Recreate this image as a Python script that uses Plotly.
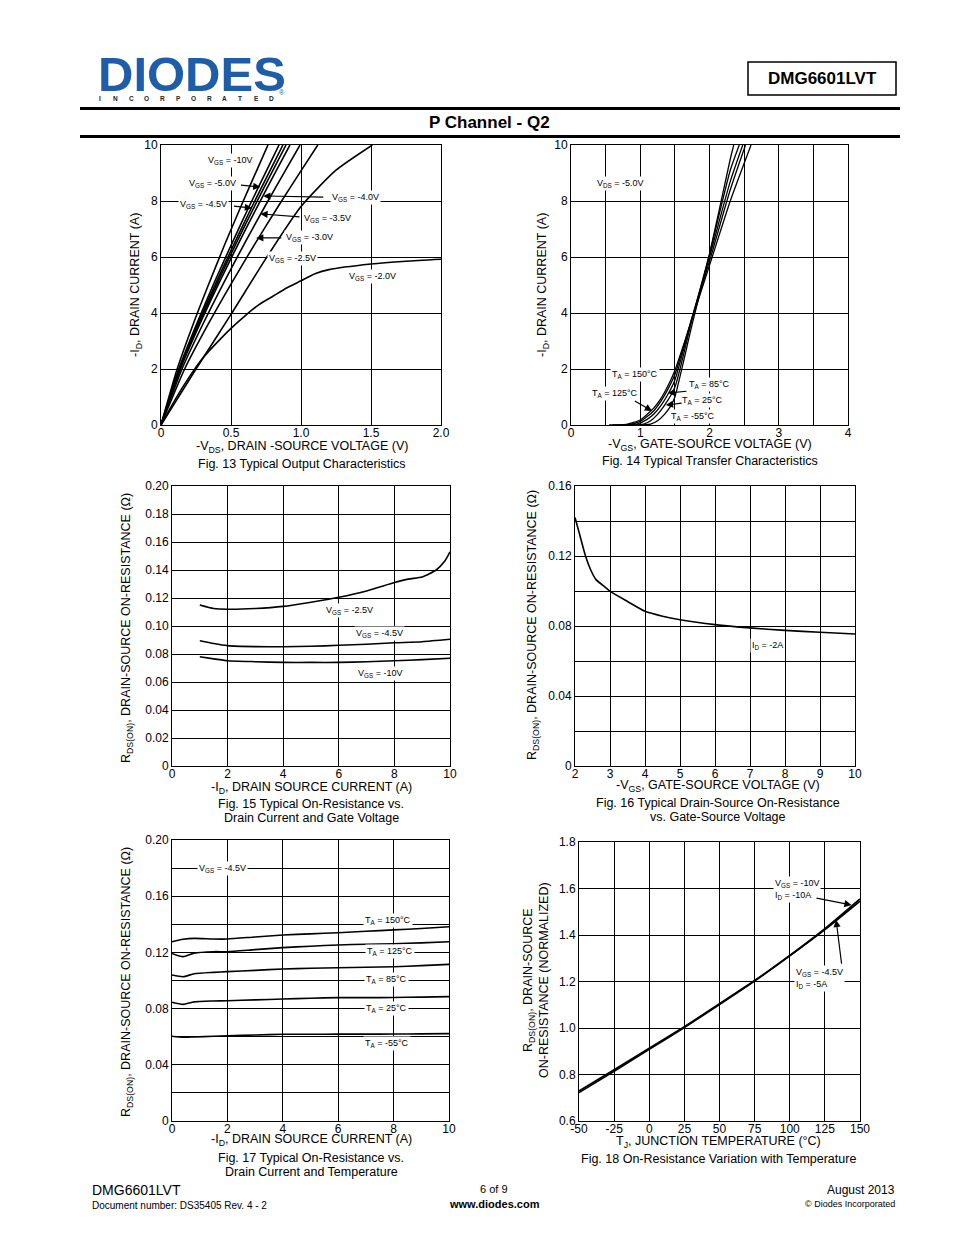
import plotly.graph_objects as go

OFF = 0
FW, FH = 954, 1235
FONT = "Liberation Sans, Arial, sans-serif"

# ---------------- DATA ----------------
# Fig 13: output characteristics (-VDS, -ID)
f13_vgs10_x = [0, 0.115, 0.229, 0.344, 0.458, 0.573, 0.688, 0.764]
f13_vgs10_y = [0, 1.99, 3.59, 5.07, 6.48, 7.83, 9.14, 10]
f13_vgs5_x = [0, 0.126, 0.253, 0.379, 0.506, 0.632, 0.759, 0.843]
f13_vgs5_y = [0, 1.99, 3.59, 5.07, 6.48, 7.83, 9.14, 10]
f13_vgs45_x = [0, 0.131, 0.261, 0.392, 0.523, 0.653, 0.784, 0.871]
f13_vgs45_y = [0, 1.99, 3.59, 5.07, 6.48, 7.83, 9.14, 10]
f13_unl_x = [0, 0.134, 0.268, 0.402, 0.536, 0.670, 0.804, 0.893]
f13_unl_y = [0, 1.99, 3.59, 5.07, 6.48, 7.83, 9.14, 10]
f13_vgs4_x = [0, 0.138, 0.276, 0.414, 0.553, 0.691, 0.829, 0.921]
f13_vgs4_y = [0, 1.99, 3.59, 5.07, 6.48, 7.83, 9.14, 10]
f13_vgs35_x = [0, 0.149, 0.298, 0.447, 0.596, 0.745, 0.894, 0.993]
f13_vgs35_y = [0, 1.99, 3.59, 5.07, 6.48, 7.83, 9.14, 10]
f13_vgs3_x = [0, 0.168, 0.336, 0.504, 0.672, 0.840, 1.008, 1.12]
f13_vgs3_y = [0, 1.99, 3.59, 5.07, 6.48, 7.83, 9.14, 10]
f13_vgs25_x = [0, 0.25, 0.5, 0.75, 1.0, 1.25, 1.51]
f13_vgs25_y = [0, 2.0, 3.95, 5.95, 7.8, 9.1, 10]
f13_vgs2_x = [0, 0.1, 0.2, 0.3, 0.42, 0.5, 0.6, 0.7, 0.8, 0.9, 1.0, 1.1, 1.2, 1.5, 1.75, 2.0]
f13_vgs2_y = [0, 0.9, 1.7, 2.4, 3.05, 3.45, 3.9, 4.3, 4.6, 4.9, 5.15, 5.4, 5.55, 5.75, 5.85, 5.92]

# Fig 14: transfer characteristics (-VGS, -ID)
f14_t150_x = [0.55, 0.8, 1.0, 1.1, 1.2, 1.3, 1.4, 1.5, 1.75, 2.0, 2.3, 2.6]
f14_t150_y = [0, 0.02, 0.18, 0.38, 0.62, 0.95, 1.4, 1.95, 3.8, 5.7, 8.0, 10]
f14_t125_x = [0.6, 0.85, 1.0, 1.1, 1.2, 1.3, 1.4, 1.5, 1.75, 2.0, 2.3, 2.52]
f14_t125_y = [0, 0.02, 0.13, 0.3, 0.52, 0.85, 1.28, 1.8, 3.85, 5.85, 8.4, 10]
f14_t85_x = [0.7, 0.95, 1.1, 1.2, 1.3, 1.4, 1.5, 1.75, 2.0, 2.3, 2.48]
f14_t85_y = [0, 0.03, 0.2, 0.4, 0.7, 1.1, 1.6, 3.85, 6.0, 8.7, 10]
f14_t25_x = [0.8, 1.05, 1.15, 1.25, 1.35, 1.5, 1.75, 2.0, 2.3, 2.43]
f14_t25_y = [0, 0.03, 0.15, 0.38, 0.7, 1.35, 3.8, 6.1, 9.1, 10]
f14_tm55_x = [0.95, 1.15, 1.25, 1.35, 1.45, 1.5, 1.75, 2.0, 2.3, 2.35]
f14_tm55_y = [0, 0.03, 0.15, 0.38, 0.72, 1.0, 3.6, 6.1, 9.5, 10]

# Fig 15: RDS(ON) vs ID and VGS
f15_vgs25_x = [1, 1.5, 2, 3, 4, 5, 6, 7, 8, 8.5, 9, 9.5, 9.8, 10]
f15_vgs25_y = [0.115, 0.1125, 0.112, 0.1125, 0.114, 0.117, 0.1205, 0.125, 0.131, 0.1335, 0.135, 0.14, 0.146, 0.153]
f15_vgs45_x = [1, 1.5, 2, 3, 4, 5, 6, 7, 8, 9, 10]
f15_vgs45_y = [0.0895, 0.0875, 0.086, 0.0853, 0.0852, 0.0855, 0.0862, 0.087, 0.088, 0.0888, 0.0905]
f15_vgs10_x = [1, 1.5, 2, 3, 4, 5, 6, 7, 8, 9, 10]
f15_vgs10_y = [0.078, 0.0765, 0.0752, 0.0745, 0.074, 0.074, 0.074, 0.0745, 0.0752, 0.076, 0.077]

# Fig 16: RDS(ON) vs VGS
f16_vgs = [2.0, 2.15, 2.3, 2.45, 2.6, 2.8, 3.0, 3.5, 4.0, 4.5, 5, 6, 7, 8, 9, 10]
f16_rds = [0.142, 0.131, 0.12, 0.112, 0.1065, 0.1032, 0.0999, 0.094, 0.0884, 0.0856, 0.0836, 0.0808, 0.0789, 0.0775, 0.0764, 0.0754]

# Fig 17: RDS(ON) vs ID and temperature
f17_id = [0, 0.4, 0.8, 1.5, 2, 3, 4, 5, 6, 7, 8, 9, 10]
f17_t150 = [0.1276, 0.1293, 0.130, 0.1295, 0.1295, 0.131, 0.1324, 0.1332, 0.134, 0.135, 0.136, 0.137, 0.1383]
f17_t125 = [0.1193, 0.117, 0.1195, 0.1205, 0.1205, 0.122, 0.1234, 0.1244, 0.1253, 0.1258, 0.1262, 0.1268, 0.1276]
f17_t85 = [0.1039, 0.1027, 0.1048, 0.1058, 0.1063, 0.1072, 0.1082, 0.1087, 0.1091, 0.1094, 0.1098, 0.1106, 0.1115]
f17_t25 = [0.0845, 0.083, 0.0848, 0.0854, 0.0856, 0.0862, 0.0868, 0.0874, 0.0878, 0.0878, 0.0879, 0.0882, 0.0885]
f17_tm55 = [0.0603, 0.0596, 0.0598, 0.0603, 0.0607, 0.0612, 0.0617, 0.0617, 0.0618, 0.0618, 0.0619, 0.062, 0.0622]

# Fig 18: normalized RDS(ON) vs TJ
f18_tj = [-50, -25, 0, 25, 50, 75, 100, 125, 150]
f18_vgs10 = [0.729, 0.82, 0.913, 1.006, 1.104, 1.204, 1.312, 1.427, 1.555]
f18_vgs45 = [0.722, 0.814, 0.908, 1.002, 1.101, 1.202, 1.31, 1.423, 1.546]

# ---------------- LAYOUT HELPERS ----------------
def px(x):
    return (x - OFF) / FW

def py(y):
    return 1 - (y - OFF) / FH

fig = go.Figure()

boxes = {
    1: (161, 441, 145, 425),
    2: (571, 848, 145, 425),
    3: (172, 450, 486, 766),
    4: (575, 855, 486, 766),
    5: (172, 449, 840, 1121),
    6: (579, 860, 842, 1121),
}

def axname(i, kind):
    return kind + ("axis" if i == 1 else "axis%d" % i)

def ref(i, kind):
    return kind if i == 1 else "%s%d" % (kind, i)

def add_line(i, x, y, width=1.6, name=""):
    fig.add_trace(go.Scatter(x=x, y=y, mode="lines", name=name,
                             line=dict(color="black", width=width, shape="spline", smoothing=0.6),
                             xaxis=ref(i, "x"), yaxis=ref(i, "y"), showlegend=False,
                             hoverinfo="skip"))

# Fig 13
add_line(1, f13_vgs10_x, f13_vgs10_y, name="VGS=-10V")
add_line(1, f13_vgs5_x, f13_vgs5_y, name="VGS=-5.0V")
add_line(1, f13_vgs45_x, f13_vgs45_y, name="VGS=-4.5V")
add_line(1, f13_unl_x, f13_unl_y, name="unlabeled")
add_line(1, f13_vgs4_x, f13_vgs4_y, name="VGS=-4.0V")
add_line(1, f13_vgs35_x, f13_vgs35_y, name="VGS=-3.5V")
add_line(1, f13_vgs3_x, f13_vgs3_y, name="VGS=-3.0V")
add_line(1, f13_vgs25_x, f13_vgs25_y, name="VGS=-2.5V")
add_line(1, f13_vgs2_x, f13_vgs2_y, name="VGS=-2.0V")
# Fig 14
add_line(2, f14_t150_x, f14_t150_y, width=1.3)
add_line(2, f14_t125_x, f14_t125_y, width=1.3)
add_line(2, f14_t85_x, f14_t85_y, width=1.3)
add_line(2, f14_t25_x, f14_t25_y, width=1.3)
add_line(2, f14_tm55_x, f14_tm55_y, width=1.3)
# Fig 15
add_line(3, f15_vgs25_x, f15_vgs25_y)
add_line(3, f15_vgs45_x, f15_vgs45_y)
add_line(3, f15_vgs10_x, f15_vgs10_y)
# Fig 16
add_line(4, f16_vgs, f16_rds)
# Fig 17
for ys in (f17_t150, f17_t125, f17_t85, f17_t25, f17_tm55):
    add_line(5, f17_id, ys)
# Fig 18
add_line(6, f18_tj, f18_vgs10, width=1.7)
add_line(6, f18_tj, f18_vgs45, width=1.7)

axis_common = dict(showline=True, mirror=True, linecolor="black", linewidth=1,
                   showgrid=True, gridcolor="black", gridwidth=1, zeroline=False,
                   ticks="", tickfont=dict(family=FONT, size=12, color="black"),
                   fixedrange=True, automargin=False)

def setax(i, xr, xtv, xtt, yr, ytv, ytt, xminor=None, yminor=None):
    x0, x1, y0, y1 = boxes[i]
    xa = dict(axis_common, domain=[px(x0), px(x1)], range=xr, tickvals=xtv, ticktext=xtt,
              anchor=ref(i, "y"), ticklabelstandoff=-3)
    ya = dict(axis_common, domain=[py(y1), py(y0)], range=yr, tickvals=ytv, ticktext=ytt,
              anchor=ref(i, "x"))
    if xminor is not None:
        xa["minor"] = dict(tickvals=xminor, showgrid=True, gridcolor="black", gridwidth=1, ticks="")
    if yminor is not None:
        ya["minor"] = dict(tickvals=yminor, showgrid=True, gridcolor="black", gridwidth=1, ticks="")
    fig.update_layout({axname(i, "x"): xa, axname(i, "y"): ya})

setax(1, [0, 2], [0, 0.5, 1, 1.5, 2], ["0", "0.5", "1.0", "1.5", "2.0"],
      [0, 10], [0, 2, 4, 6, 8, 10], ["0", "2", "4", "6", "8", "10"])
setax(2, [0, 4], [0, 1, 2, 3, 4], ["0", "1", "2", "3", "4"],
      [0, 10], [0, 2, 4, 6, 8, 10], ["0", "2", "4", "6", "8", "10"],
      xminor=[0.5, 1.5, 2.5, 3.5])
setax(3, [0, 10], [0, 2, 4, 6, 8, 10], ["0", "2", "4", "6", "8", "10"],
      [0, 0.2], [0, 0.02, 0.04, 0.06, 0.08, 0.10, 0.12, 0.14, 0.16, 0.18, 0.20],
      ["0", "0.02", "0.04", "0.06", "0.08", "0.10", "0.12", "0.14", "0.16", "0.18", "0.20"])
setax(4, [2, 10], [2, 3, 4, 5, 6, 7, 8, 9, 10], ["2", "3", "4", "5", "6", "7", "8", "9", "10"],
      [0, 0.16], [0, 0.04, 0.08, 0.12, 0.16], ["0", "0.04", "0.08", "0.12", "0.16"],
      yminor=[0.02, 0.06, 0.10, 0.14])
setax(5, [0, 10], [0, 2, 4, 6, 8, 10], ["0", "2", "4", "6", "8", "10"],
      [0, 0.2], [0, 0.04, 0.08, 0.12, 0.16, 0.20], ["0", "0.04", "0.08", "0.12", "0.16", "0.20"],
      yminor=[0.02, 0.06, 0.10, 0.14, 0.18])
setax(6, [-50, 150], [-50, -25, 0, 25, 50, 75, 100, 125, 150],
      ["-50", "-25", "0", "25", "50", "75", "100", "125", "150"],
      [0.6, 1.8], [0.6, 0.8, 1.0, 1.2, 1.4, 1.6, 1.8], ["0.6", "0.8", "1.0", "1.2", "1.4", "1.6", "1.8"])

ann = []

def label(i, x, y, text, bg=True, size=9, align="center"):
    ann.append(dict(x=x, y=y, xref=ref(i, "x"), yref=ref(i, "y"), text=text, showarrow=False,
                    font=dict(family=FONT, size=size, color="black"), align=align,
                    bgcolor="white" if bg else "rgba(0,0,0,0)", borderpad=1))

def arrow(i, x0, y0, x1, y1):
    ann.append(dict(x=x1, y=y1, ax=x0, ay=y0, xref=ref(i, "x"), yref=ref(i, "y"),
                    axref=ref(i, "x"), ayref=ref(i, "y"), text="", showarrow=True,
                    arrowhead=2, arrowsize=1.2, arrowwidth=1.2, arrowcolor="black", standoff=0))

# Fig 13 labels
label(1, 0.49, 9.46, "V<sub>GS</sub> = -10V")
label(1, 0.37, 8.64, "V<sub>GS</sub> = -5.0V")
arrow(1, 0.56, 8.57, 0.71, 8.5)
label(1, 0.30, 7.89, "V<sub>GS</sub> = -4.5V")
arrow(1, 0.51, 7.82, 0.65, 7.75)
label(1, 1.39, 8.14, "V<sub>GS</sub> = -4.0V")
arrow(1, 1.17, 8.14, 0.73, 8.18)
label(1, 1.19, 7.39, "V<sub>GS</sub> = -3.5V")
arrow(1, 1.0, 7.43, 0.71, 7.54)
label(1, 1.06, 6.71, "V<sub>GS</sub> = -3.0V")
arrow(1, 0.87, 6.68, 0.68, 6.68)
label(1, 0.94, 5.96, "V<sub>GS</sub> = -2.5V")
label(1, 1.51, 5.29, "V<sub>GS</sub> = -2.0V")

# Fig 14 labels
label(2, 0.71, 8.64, "V<sub>DS</sub> = -5.0V")
label(2, 0.92, 1.79, "T<sub>A</sub> = 150°C")
label(2, 0.64, 1.14, "T<sub>A</sub> = 125°C")
arrow(2, 0.9, 0.89, 1.17, 0.5)
label(2, 2.0, 1.43, "T<sub>A</sub> = 85°C")
arrow(2, 1.69, 1.21, 1.4, 1.14)
label(2, 1.9, 0.86, "T<sub>A</sub> = 25°C")
arrow(2, 1.62, 0.79, 1.37, 0.71)
label(2, 1.76, 0.32, "T<sub>A</sub> = -55°C")

# Fig 15 labels
label(3, 6.4, 0.1114, "V<sub>GS</sub> = -2.5V")
label(3, 7.48, 0.095, "V<sub>GS</sub> = -4.5V")
label(3, 7.48, 0.0664, "V<sub>GS</sub> = -10V")

# Fig 16 label
label(4, 7.49, 0.0691, "I<sub>D</sub> = -2A")

# Fig 17 labels
label(5, 1.84, 0.18, "V<sub>GS</sub> = -4.5V")
label(5, 7.8, 0.143, "T<sub>A</sub> = 150°C")
label(5, 7.87, 0.1203, "T<sub>A</sub> = 125°C")
label(5, 7.76, 0.1004, "T<sub>A</sub> = 85°C")
label(5, 7.76, 0.0804, "T<sub>A</sub> = 25°C")
label(5, 7.76, 0.0555, "T<sub>A</sub> = -55°C")

# Fig 18 labels
label(6, 105, 1.594, "V<sub>GS</sub> = -10V<br>I<sub>D</sub> = -10A", align="left")
arrow(6, 118, 1.56, 144, 1.529)
label(6, 121.5, 1.215, "V<sub>GS</sub> = -4.5V<br>I<sub>D</sub> = -5A", align="left")
arrow(6, 137, 1.27, 133, 1.465)

def ptext(x, y, text, size=12.5, bold=False, xanchor="center", angle=0, color="black",
          family=FONT, height=None):
    t = "<b>%s</b>" % text if bold else text
    a = dict(x=px(x), y=py(y), xref="paper", yref="paper", text=t, showarrow=False,
             xanchor=xanchor, yanchor="middle", textangle=angle,
             font=dict(family=family, size=size, color=color))
    if height is not None:
        a["height"] = height
    ann.append(a)

# Axis titles & captions
ptext(302, 447, "-V<sub>DS</sub>, DRAIN -SOURCE VOLTAGE (V)")
ptext(302, 464, "Fig. 13 Typical Output Characteristics")
ptext(136, 285, "-I<sub>D</sub>, DRAIN CURRENT (A)", angle=-90)

ptext(710, 445, "-V<sub>GS</sub>, GATE-SOURCE VOLTAGE (V)")
ptext(710, 461, "Fig. 14 Typical Transfer Characteristics")
ptext(543, 285, "-I<sub>D</sub>, DRAIN CURRENT (A)", angle=-90)

ptext(311, 788, "-I<sub>D</sub>, DRAIN SOURCE CURRENT (A)")
ptext(311, 804, "Fig. 15 Typical On-Resistance vs.")
ptext(311, 818, "Drain Current and Gate Voltage")
ptext(127, 628, "R<sub>DS(ON)</sub>, DRAIN-SOURCE ON-RESISTANCE (Ω)", angle=-90)

ptext(718, 786, "-V<sub>GS</sub>, GATE-SOURCE VOLTAGE (V)")
ptext(718, 803, "Fig. 16 Typical Drain-Source On-Resistance")
ptext(718, 817, "vs. Gate-Source Voltage")
ptext(533, 625, "R<sub>DS(ON)</sub>, DRAIN-SOURCE ON-RESISTANCE (Ω)", angle=-90)

ptext(311, 1140, "-I<sub>D</sub>, DRAIN SOURCE CURRENT (A)")
ptext(311, 1158, "Fig. 17 Typical On-Resistance vs.")
ptext(311, 1172, "Drain Current and Temperature")
ptext(127, 982, "R<sub>DS(ON)</sub>, DRAIN-SOURCE ON-RESISTANCE (Ω)", angle=-90)

ptext(718, 1142, "T<sub>J</sub>, JUNCTION TEMPERATURE (°C)")
ptext(718, 1159, "Fig. 18 On-Resistance Variation with Temperature")
ptext(536, 980, "R<sub>DS(ON)</sub>, DRAIN-SOURCE<br>ON-RESISTANCE (NORMALIZED)", angle=-90)

# Header
BLUE = "#1F5DA8"
ptext(96, 74, "DIODES", size=49, bold=True, xanchor="left", color=BLUE, height=38)
letters = "INCORPORATED"
for k, ch in enumerate(letters):
    ptext(100 + k * 15.6, 98.5, ch, size=6.5, bold=True, xanchor="center", color="#222222")
ptext(282, 93, "®", size=7, color=BLUE)
ptext(822, 79, "DMG6601LVT", size=17, bold=True)
ptext(490, 122, "P Channel - Q2", size=17, bold=True)

# Footer
ptext(90, 1190, "DMG6601LVT", size=14, xanchor="left")
ptext(90, 1205, "Document number: DS35405 Rev. 4 - 2", size=10, xanchor="left")
ptext(494, 1189, "6 of 9", size=11)
ptext(494, 1204, "www.diodes.com", size=11, bold=True)
ptext(897, 1190, "August 2013", size=12, xanchor="right")
ptext(897, 1204, "© Diodes Incorporated", size=9, xanchor="right")

shapes = [
    dict(type="rect", xref="paper", yref="paper", x0=px(748), x1=px(896), y0=py(95), y1=py(62),
         line=dict(color="black", width=1.5)),
    dict(type="line", xref="paper", yref="paper", x0=px(80), x1=px(900), y0=py(108.5), y1=py(108.5),
         line=dict(color="black", width=3)),
    dict(type="line", xref="paper", yref="paper", x0=px(80), x1=px(900), y0=py(136.5), y1=py(136.5),
         line=dict(color="black", width=3)),
]

fig.update_layout(width=FW, height=FH, margin=dict(l=0, r=0, t=0, b=0, pad=0),
                  autosize=False,
                  paper_bgcolor="white", plot_bgcolor="white",
                  annotations=ann, shapes=shapes, showlegend=False,
                  font=dict(family=FONT, color="black"))

fig.write_html("out.html")
